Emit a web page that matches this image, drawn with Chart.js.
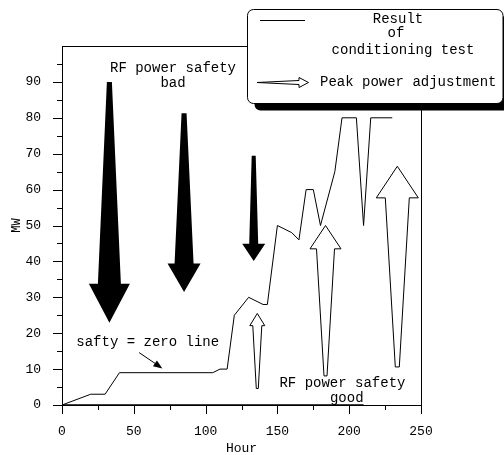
<!DOCTYPE html>
<html>
<head>
<meta charset="utf-8">
<script src="https://cdn.jsdelivr.net/npm/chart.js@4.4.1/dist/chart.umd.min.js"></script>
<style>
html,body{margin:0;padding:0;background:#fff;}
canvas{display:block;}
</style>
</head>
<body>
<canvas id="c" width="504" height="455"></canvas>
<script>
// ---- data ----
const hours = [0, 20, 30, 40, 105, 110, 115, 120, 130, 140, 143, 150, 160, 165, 170, 175, 180, 190, 195, 205, 210, 215, 230];
const powerMW = [0, 3, 3, 9, 9, 10, 10, 25, 30, 28, 28, 50, 48, 46, 60, 60, 50, 65, 80, 80, 50, 80, 80];

// safety = zero line along the bottom
const zeroLineHours = [0, 210];
const zeroLineMW = [0, 0];

const xTickLabels = ['0', '50', '100', '150', '200', '250'];
const yTickLabels = ['0', '10', '20', '30', '40', '50', '60', '70', '80', '90'];

// "RF power safety bad" arrows (filled, pointing down): hour, tail MW, head-base MW, tip MW
const badArrowHour = [33, 85, 133.5];
const badArrowTail = [90, 81.3, 69.4];
const badArrowBase = [33.8, 39.4, 44.9];
const badArrowTip = [22.9, 31.5, 40.1];

// "Peak power adjustment" arrows (hollow, pointing up): hour, tail MW, head-base MW, tip MW
const peakArrowHour = [136, 183.5, 233.5];
const peakArrowTail = [4.6, 8.1, 10.6];
const peakArrowBase = [22.1, 43.5, 57.7];
const peakArrowTip = [25.5, 50, 66.5];

// ---- styles / sizes (px) ----
const badArrowSize = [ {tail: 5, shaft: 23, head: 41}, {tail: 5, shaft: 19, head: 33}, {tail: 4, shaft: 9, head: 23} ];
const peakArrowSize = [ {tail: 2, shaft: 9, head: 15}, {tail: 3, shaft: 18, head: 31}, {tail: 4, shaft: 24, head: 42} ];

const annText = [
  {t: 'RF power safety', x: 77.3, y: 93.8},
  {t: 'bad', x: 77.3, y: 89.6},
  {t: 'safty = zero line', x: 59.7, y: 17.4},
  {t: 'RF power safety', x: 195.3, y: 6.0},
  {t: 'good', x: 198.3, y: 2.0}
];
const pointerArrow = {x1: 53.7, y1: 14.6, x2: 69.9, y2: 10.2};

const FONT = '"Liberation Mono", "Courier New", monospace';

function arrowPath(ctx, cx, yTail, yBase, yTip, s) {
  ctx.beginPath();
  ctx.moveTo(cx - s.tail / 2, yTail);
  ctx.lineTo(cx - s.shaft / 2, yBase);
  ctx.lineTo(cx - s.head / 2, yBase);
  ctx.lineTo(cx, yTip);
  ctx.lineTo(cx + s.head / 2, yBase);
  ctx.lineTo(cx + s.shaft / 2, yBase);
  ctx.lineTo(cx + s.tail / 2, yTail);
  ctx.closePath();
}

const framePlugin = {
  id: 'frame',
  beforeDatasetsDraw(chart) {
    const {ctx, chartArea: a, scales} = chart;
    ctx.save();
    ctx.strokeStyle = '#000';
    ctx.lineWidth = 1;
    ctx.strokeRect(a.left + 0.5, a.top + 0.5, a.right - a.left, a.bottom - a.top);
    // tick marks
    ctx.beginPath();
    scales.x.ticks.forEach(t => {
      const px = Math.round(scales.x.getPixelForValue(t.value)) + 0.5;
      const len = t.value % 50 === 0 ? 9 : 5;
      ctx.moveTo(px, a.bottom);
      ctx.lineTo(px, a.bottom + len);
    });
    scales.y.ticks.forEach(t => {
      if (t.value >= 100) return;
      const py = Math.round(scales.y.getPixelForValue(t.value)) + 0.5;
      const len = t.value % 10 === 0 ? 9 : 5;
      ctx.moveTo(a.left, py);
      ctx.lineTo(a.left - len, py);
    });
    ctx.stroke();
    ctx.restore();
  },
  afterDatasetsDraw(chart) {
    const {ctx, scales} = chart;
    const X = v => scales.x.getPixelForValue(v);
    const Y = v => scales.y.getPixelForValue(v);
    ctx.save();
    // bad arrows
    badArrowHour.forEach((h, i) => {
      arrowPath(ctx, X(h), Y(badArrowTail[i]), Y(badArrowBase[i]), Y(badArrowTip[i]), badArrowSize[i]);
      ctx.fillStyle = '#000';
      ctx.fill();
    });
    // peak arrows
    peakArrowHour.forEach((h, i) => {
      arrowPath(ctx, X(h), Y(peakArrowTail[i]), Y(peakArrowBase[i]), Y(peakArrowTip[i]), peakArrowSize[i]);
      ctx.fillStyle = '#fff';
      ctx.fill();
      ctx.strokeStyle = '#000';
      ctx.lineWidth = 1;
      ctx.stroke();
    });
    // texts
    ctx.fillStyle = '#000';
    ctx.font = '14px ' + FONT;
    ctx.textAlign = 'center';
    ctx.textBaseline = 'middle';
    annText.forEach(a => ctx.fillText(a.t, X(a.x), Y(a.y)));
    // pointer arrow
    const x1 = X(pointerArrow.x1), y1 = Y(pointerArrow.y1), x2 = X(pointerArrow.x2), y2 = Y(pointerArrow.y2);
    const ang = Math.atan2(y2 - y1, x2 - x1);
    ctx.beginPath();
    ctx.moveTo(x1, y1);
    ctx.lineTo(x2 - 6 * Math.cos(ang), y2 - 6 * Math.sin(ang));
    ctx.lineWidth = 1;
    ctx.stroke();
    ctx.beginPath();
    ctx.moveTo(x2, y2);
    ctx.lineTo(x2 - 9 * Math.cos(ang) + 3.5 * Math.sin(ang), y2 - 9 * Math.sin(ang) - 3.5 * Math.cos(ang));
    ctx.lineTo(x2 - 9 * Math.cos(ang) - 3.5 * Math.sin(ang), y2 - 9 * Math.sin(ang) + 3.5 * Math.cos(ang));
    ctx.closePath();
    ctx.fill();
    ctx.restore();
  },
  afterDraw(chart) {
    const {ctx} = chart;
    ctx.save();
    // legend box with shadow
    const bx = 247.5, by = 9.5, bw = 262, bh = 94, r = 6;
    ctx.fillStyle = '#000';
    ctx.beginPath();
    ctx.roundRect(bx + 7, by + 7, bw, bh, r);
    ctx.fill();
    ctx.beginPath();
    ctx.roundRect(bx, by, bw - 6.5, bh, r);
    ctx.fillStyle = '#fff';
    ctx.fill();
    ctx.strokeStyle = '#000';
    ctx.lineWidth = 1;
    ctx.stroke();
    // line sample
    ctx.beginPath();
    ctx.moveTo(260, 20.5);
    ctx.lineTo(305, 20.5);
    ctx.stroke();
    // arrow sample
    ctx.beginPath();
    ctx.moveTo(257, 82.5);
    ctx.lineTo(299, 80.5);
    ctx.lineTo(299, 77.5);
    ctx.lineTo(308.5, 82.5);
    ctx.lineTo(299, 87.5);
    ctx.lineTo(299, 84.5);
    ctx.closePath();
    ctx.stroke();
    ctx.fillStyle = '#000';
    ctx.font = '14px ' + FONT;
    ctx.textBaseline = 'middle';
    ctx.textAlign = 'center';
    ctx.fillText('Result', 398, 19);
    ctx.fillText('of', 396, 33);
    ctx.fillText('conditioning test', 403, 50);
    ctx.textAlign = 'left';
    ctx.fillText('Peak power adjustment', 320, 82);
    ctx.restore();
  }
};

new Chart(document.getElementById('c'), {
  type: 'line',
  data: {
    datasets: [{
      data: hours.map((h, i) => ({x: h, y: powerMW[i]})),
      borderColor: '#000',
      borderWidth: 1,
      pointRadius: 0,
      tension: 0,
      fill: false
    }, {
      data: zeroLineHours.map((h, i) => ({x: h, y: zeroLineMW[i]})),
      borderColor: '#000',
      borderWidth: 1.5,
      pointRadius: 0,
      tension: 0,
      fill: false,
      clip: false
    }]
  },
  options: {
    responsive: false,
    animation: false,
    devicePixelRatio: 1,
    layout: {padding: {left: 0, top: 46, right: 83, bottom: 0}},
    plugins: {legend: {display: false}, tooltip: {enabled: false}},
    scales: {
      x: {
        type: 'linear', min: 0, max: 250,
        afterFit: s => { s.height = 50; },
        grid: {display: false, drawTicks: true, tickLength: 9},
        border: {display: false},
        ticks: {
          stepSize: 25, autoSkip: false, maxRotation: 0, padding: 10,
          color: '#000', font: {family: FONT, size: 13},
          callback: v => xTickLabels.includes(String(v)) ? String(v) : ''
        },
        title: {display: true, text: 'Hour', color: '#000', font: {family: FONT, size: 13}, padding: {top: 0, bottom: -1}}
      },
      y: {
        type: 'linear', min: 0, max: 100,
        afterFit: s => { s.width = 62; },
        grid: {display: false, drawTicks: true, tickLength: 9},
        border: {display: false},
        ticks: {
          stepSize: 5, autoSkip: false, padding: 12,
          color: '#000', font: {family: FONT, size: 13},
          callback: v => yTickLabels.includes(String(v)) ? String(v) : ''
        },
        title: {display: true, text: 'MW', color: '#000', font: {family: FONT, size: 12}, padding: {top: 10, bottom: 0}}
      }
    }
  },
  plugins: [framePlugin]
});
</script>
</body>
</html>
